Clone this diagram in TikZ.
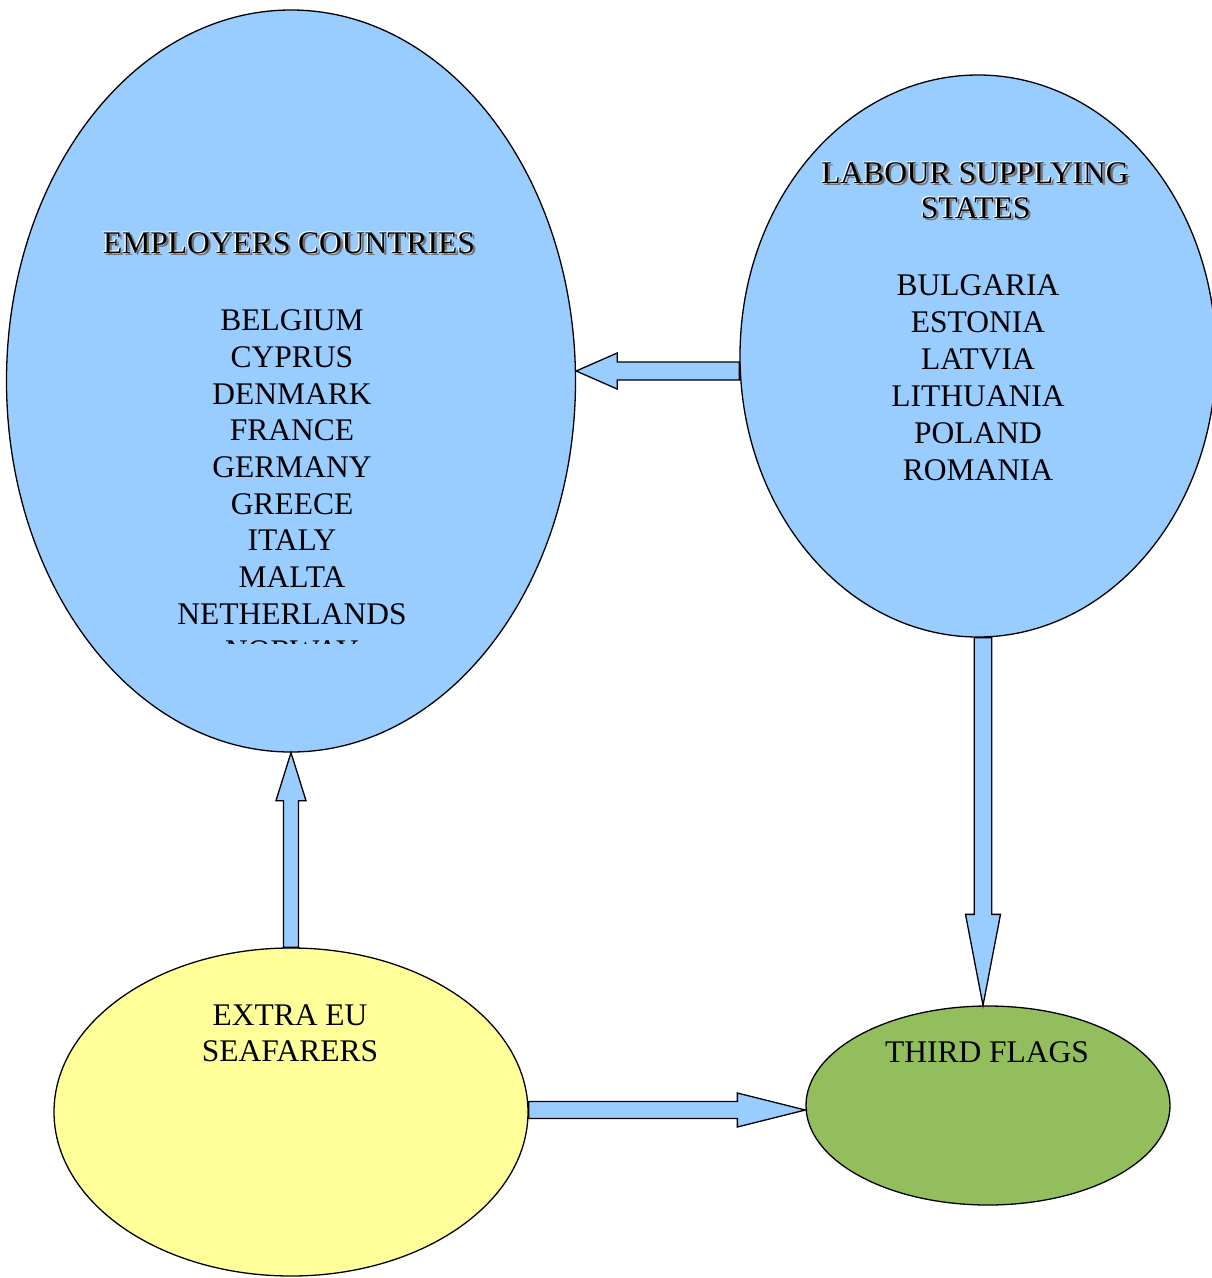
\documentclass[tikz,border=0pt]{standalone}
\usepackage{fontspec}
\setmainfont{Liberation Serif}
\usepackage{tikz}
\usetikzlibrary{shapes.geometric,calc}
\usepackage{xcolor}
\definecolor{skyblue}{HTML}{99CCFF}
\definecolor{paleyellow}{HTML}{FFFF99}
\definecolor{olivegreen}{HTML}{92BE5E}
% heading text with a light and a dark offset copy
\newcommand{\embossed}[1]{\makebox[0pt][l]{\hspace{2.4pt}\raisebox{-2.4pt}{\color{black!55}#1}}%
  \makebox[0pt][l]{\hspace{-1.2pt}\raisebox{0.8pt}{\color{white}#1}}#1}

\begin{document}
\begin{tikzpicture}[x=1pt, y=-1pt,
  every node/.style={font=\fontsize{31.5}{36.9}\selectfont},
  region/.style={ellipse, draw=black, line width=1.3pt, inner sep=0pt},
  country/.style={anchor=base, inner sep=0pt},
  fatarrow/.style n args={3}{draw=black, fill=skyblue, line width=1.3pt, line join=miter,
    to path={let \p1=(\tikztostart), \p2=(\tikztotarget) in
      ($(\p1)!#1!90:(\p2)$) -- ($(\p2)!#3!(\p1)!#1!-90:(\p1)$)
      -- ($(\p2)!#3!(\p1)!#2!-90:(\p1)$) -- (\p2)
      -- ($(\p2)!#3!(\p1)!#2!90:(\p1)$) -- ($(\p2)!#3!(\p1)!#1!90:(\p1)$)
      -- ($(\p1)!#1!-90:(\p2)$) -- cycle}}
]
\useasboundingbox (0,0) rectangle (1212,1278);

% the four groups
\node[region, fill=skyblue, minimum width=569pt, minimum height=742pt] (emp) at (291,381) {};
\node[region, fill=skyblue, minimum width=476pt, minimum height=562pt] (labour) at (978,356) {};
\node[region, fill=paleyellow, minimum width=474pt, minimum height=328pt] (extra) at (291,1112) {};
\node[region, fill=olivegreen, minimum width=364pt, minimum height=199pt] (third) at (988,1105.5) {};

% texts
\node[country] (emp-title) at (289,253.3) {\embossed{EMPLOYERS COUNTRIES}};
\begin{scope}
  \clip (0,0) rectangle (1212,643);
  \foreach \cname [count=\i] in {BELGIUM,CYPRUS,DENMARK,FRANCE,GERMANY,GREECE,ITALY,MALTA,NETHERLANDS,NORWAY}
    \node[country] (emp-list-\i) at (292,330.7+36.7*\i-36.7) {\cname};
\end{scope}

\node[country] (labour-title-a) at (975,183.3) {\embossed{LABOUR SUPPLYING}};
\node[country] (labour-title-b) at (975.5,218.3) {\embossed{STATES}};
\foreach \cname [count=\i] in {BULGARIA,ESTONIA,LATVIA,LITHUANIA,POLAND,ROMANIA}
  \node[country] (labour-list-\i) at (978,295.7+36.9*\i-36.9) {\cname};

\node[country] (extra-text-a) at (290,1025.7) {EXTRA EU};
\node[country] (extra-text-b) at (290,1061.5) {SEAFARERS};
\node[country] (third-text) at (987,1062.7) {THIRD FLAGS};

% block arrows
\draw[fatarrow={9pt}{18pt}{41pt}] ([yshift=-15pt]labour.west) to ([yshift=10pt]emp.east);
\draw[fatarrow={7.5pt}{15pt}{48pt}] (extra.north) to (emp.south);
\draw[fatarrow={8.7pt}{17.5pt}{91pt}] ([xshift=5pt]labour.south) to ([xshift=-5pt]third.north);
\draw[fatarrow={8.5pt}{17pt}{68pt}] ([yshift=2pt]extra.east) to ([yshift=-4.5pt]third.west);
\end{tikzpicture}
\end{document}
